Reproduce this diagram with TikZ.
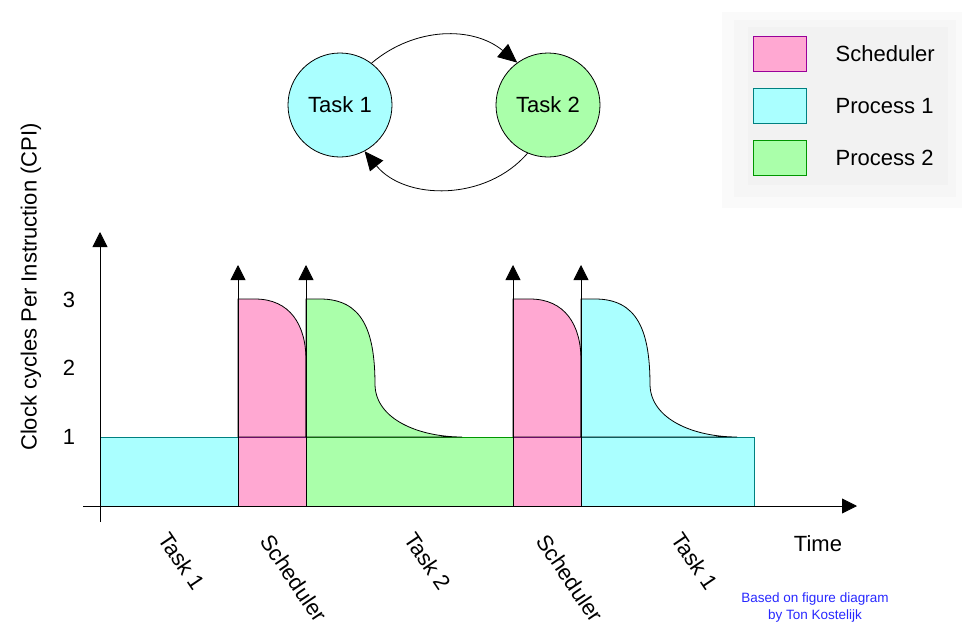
\documentclass[tikz,border=0pt]{standalone}
\usepackage{fontspec}
\setmainfont{Liberation Sans}
\usetikzlibrary{arrows.meta}

\definecolor{pinkfill}{RGB}{255,168,210}
\definecolor{pinkline}{RGB}{153,0,153}
\definecolor{cyanfill}{RGB}{170,255,255}
\definecolor{cyanline}{RGB}{0,128,128}
\definecolor{greenfill}{RGB}{170,255,170}
\definecolor{greenline}{RGB}{0,150,0}
\definecolor{creditblue}{RGB}{40,40,255}

\tikzset{
  big/.style={font=\fontsize{22}{26}\selectfont},
  task/.style={circle,draw,minimum size=104pt,inner sep=0pt,big},
  tip/.style={-{Triangle[length=15pt,width=15pt]}},
  bigtip/.style={-{Triangle[length=19pt,width=17pt]}},
  key/.style={draw,minimum width=53pt,minimum height=35pt,inner sep=0pt},
}

\begin{document}
\begin{tikzpicture}[x=1pt,y=-1pt,line width=0.8pt]
\useasboundingbox (0,0) rectangle (962,627);

% legend
\fill[gray!4] (722,12) rectangle (962,208);
\fill[gray!7] (734,20) rectangle (956,197);
\fill[gray!10] (748,27) rectangle (948,185);
\foreach \y/\c/\txt [count=\i] in {54/pink/Scheduler,106/cyan/Process 1,158/green/Process 2}{
  \node[key,fill=\c fill,draw=\c line] (k\i) at (780,\y) {};
  \node[big,anchor=west] (l\i) at (832,\y) {\txt};
}

% task switching
\node[task,fill=cyanfill] (t1) at (340,105) {Task 1};
\node[task,fill=greenfill] (t2) at (548,105) {Task 2};
\draw[bigtip] (t1.53) to[bend left=40] (t2.126);
\draw[bigtip] (t2.247) to[bend left=50] (t1.298);

% bars
\filldraw[fill=cyanfill,draw=cyanline] (100,437) rectangle (238,506);
\filldraw[fill=pinkfill,draw=pinkline] (238,437) rectangle (306,506);
\filldraw[fill=greenfill,draw=greenline] (306,437) rectangle (513,506);
\filldraw[fill=pinkfill,draw=pinkline] (513,437) rectangle (581,506);
\filldraw[fill=cyanfill,draw=cyanline] (581,437) rectangle (754,506);

% CPI peaks after each switch
\foreach \s/\f in {0/greenfill,275/cyanfill}{
  \begin{scope}[xshift=\s]
    \filldraw[fill=pinkfill] (238,437) -- (238,299) -- (255,299)
      .. controls (290,299) and (306,325) .. (306,360) -- (306,437) -- cycle;
    \filldraw[fill=\f] (306,437) -- (306,299) -- (320,299)
      .. controls (362,299) and (375,330) .. (375,385)
      .. controls (376,420) and (420,437) .. (462,437) -- cycle;
  \end{scope}
}

% axes
\coordinate (x0) at (83,506);
\coordinate (x1) at (857,506);
\coordinate (y0) at (100,522);
\coordinate (y1) at (100,232);
\draw[tip] (x0) -- (x1);
\draw[tip] (y0) -- (y1);
\foreach \x in {238,306,513,581}{
  \coordinate (b\x) at (\x,506);
  \coordinate (u\x) at (\x,265);
  \draw[tip] (b\x) -- (u\x);
}
\foreach \y/\v in {300/3,368/2,437/1}
  \node[big] (n\v) at (69,\y) {\v};
\node[big,rotate=90] (ylab) at (31,287) {Clock cycles Per Instruction (CPI)};
\node[big] (time) at (818,544) {Time};

% phases
\foreach \x/\y/\txt [count=\i] in {182/561/Task 1,294/578/Scheduler,428/561/Task 2,570/578/Scheduler,695/561/Task 1}
  \node[big,rotate=-56] (p\i) at (\x,\y) {\txt};

\node[font=\fontsize{13.5}{17}\selectfont,text=creditblue,align=center] (credit) at (815,608)
  {Based on figure diagram\\by Ton Kostelijk};
\end{tikzpicture}
\end{document}
